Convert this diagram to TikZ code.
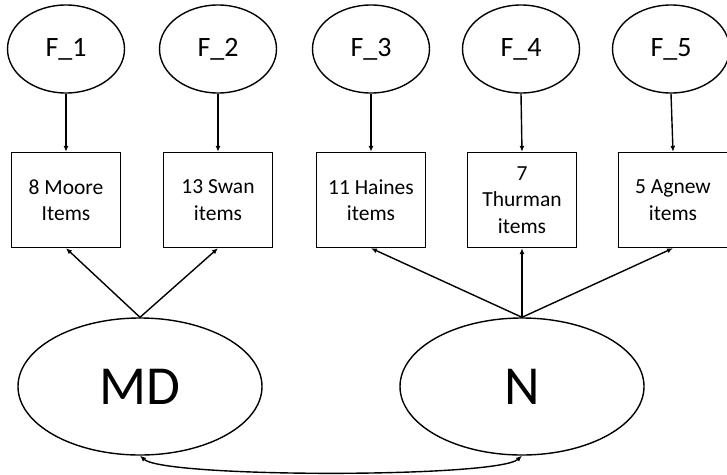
\documentclass[tikz,border=0pt]{standalone}
\usepackage{fontspec}
\setmainfont{Carlito}
\usetikzlibrary{shapes.geometric,arrows.meta}
\begin{document}
\begin{tikzpicture}[x=1pt,y=-1pt,
  factor/.style={draw,ellipse,line width=1.4pt,minimum width=117pt,minimum height=88pt,inner sep=0pt,font=\fontsize{28}{32}\selectfont},
  itembox/.style={draw,rectangle,line width=1.4pt,minimum width=109pt,minimum height=95pt,inner sep=0pt,align=center,font=\fontsize{21.5}{26.5}\selectfont},
  bigfactor/.style={draw,ellipse,line width=1.4pt,minimum width=244pt,minimum height=137pt,inner sep=0pt,font=\fontsize{55}{60}\selectfont},
  link/.style={line width=1.4pt,-{Latex[length=6pt,width=5pt]}},
  cov/.style={line width=1.4pt,{Latex[length=6pt,width=5pt]}-{Latex[length=6pt,width=5pt]}}]
\useasboundingbox (0,0) rectangle (727,474);

% first-order factors
\node[factor] (f1) at (66,49)  {F\_1};
\node[factor] (f2) at (218,49) {F\_2};
\node[factor] (f3) at (371,49) {F\_3};
\node[factor] (f4) at (521,49) {F\_4};
\node[factor] (f5) at (671,49) {F\_5};

% item parcels
\node[itembox] (b1) at (66,200)  {8 Moore\\Items};
\node[itembox] (b2) at (218,200) {13 Swan\\items};
\node[itembox] (b3) at (371,200) {11 Haines\\items};
\node[itembox] (b4) at (522,200) {7\\Thurman\\items};
\node[itembox] (b5) at (673,200) {5 Agnew\\items};

% second-order factors
\node[bigfactor] (md) at (140,386.5) {MD};
\node[bigfactor] (n)  at (522,386.5) {N};

% loadings of the first-order factors
\foreach \i in {1,...,5} \draw[link] (f\i.south) -- (b\i.north);

% loadings of the second-order factors
\draw[link] (md.north) -- (b1.south);
\draw[link] (md.north) -- (b2.south);
\draw[link] (n.north) -- (b3.south);
\draw[link] (n.north) -- (b4.south);
\draw[link] (n.north) -- (b5.south);

% covariance between MD and N
\draw[cov] (md.south) .. controls (165,478) and (497,478) .. (n.south);
\end{tikzpicture}
\end{document}
